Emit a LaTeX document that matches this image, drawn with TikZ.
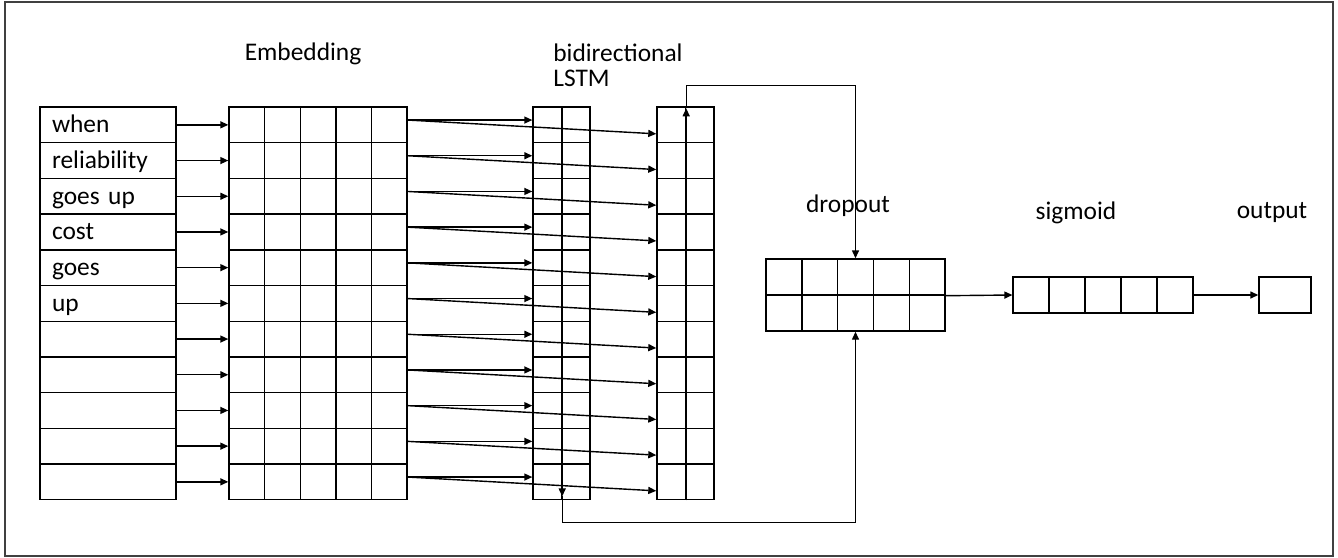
\documentclass[tikz,border=0pt]{standalone}
\usepackage{fontspec}
\setmainfont{Carlito}
\usetikzlibrary{arrows.meta, positioning}

\begin{document}
\begin{tikzpicture}[
        x=0.5pt, y=-0.5pt,
        every node/.style={font=\fontsize{12.7}{12.5}\selectfont},
        cell/.style={draw, line width=0.7pt, inner sep=0pt, minimum width=17.8pt, minimum height=17.85pt},
        lstmcell/.style={cell, minimum width=14.25pt},
        word/.style={cell, minimum width=68pt, text width=56pt, inner xsep=6pt, align=left,
            text height=10pt, text depth=2pt},
        box/.style={cell, minimum width=17.9pt, minimum height=18pt},
        lbl/.style={inner sep=0pt},
        >={Triangle[length=4pt, width=3.5pt]},
        conn/.style={->, line width=0.7pt}
    ]
    \useasboundingbox (0,0) rectangle (1338,557);
    \draw[line width=1pt, black!75] (5,2) rectangle (1333,556);
    % Define nodes
    \foreach \r/\w in {1/when, 2/reliability, 3/goes up, 4/cost, 5/goes, 6/up,
                       7/{}, 8/{}, 9/{}, 10/{}, 11/{}} {
        \node[word] (in\r) at (108, {107+35.7*(\r-0.5)}) {\w};
        \foreach \c in {1,...,5}
            \node[cell] (emb\r-\c) at ({229+35.6*(\c-0.5)}, {107+35.7*(\r-0.5)}) {};
        \foreach \c in {1,2} {
            \node[lstmcell] (fw\r-\c) at ({533+28.5*(\c-0.5)}, {107+35.7*(\r-0.5)}) {};
            \node[lstmcell] (bw\r-\c) at ({657+28.5*(\c-0.5)}, {107+35.7*(\r-0.5)}) {};
        }
    }
    \foreach \r in {1,2}
        \foreach \c in {1,...,5}
            \node[box] (drop\r-\c) at ({766+35.8*(\c-0.5)}, {259+36*(\r-0.5)}) {};
    \foreach \c in {1,...,5}
        \node[box] (sig\c) at ({1013+36*(\c-0.5)}, 295) {};
    \node[box, minimum width=26pt] (out) at (1285,295) {};
    % Labels
    \node[lbl] (emblbl) at (303,54) {Embedding};
    \node[lbl, align=left, anchor=west] (lstmlbl) at (553,65.5) {bidirectional\\LSTM};
    \node[lbl] (droplbl) at (848,206) {dropout};
    \node[lbl] (siglbl) at (1076,213) {sigmoid};
    \node[lbl] (outlbl) at (1272,213) {output};
    % Draw edges
    \foreach \r in {1,...,11} {
        \draw[conn] (in\r.east) -- (emb\r-1.west);
        \draw[conn] ([yshift=2.4pt]emb\r-5.east) -- ([yshift=2.4pt]fw\r-1.west);
        \draw[conn] ([yshift=2.4pt]emb\r-5.east) -- ([yshift=-4.5pt]bw\r-1.west);
    }
    \coordinate (fwend) at ([yshift=2pt]fw11-1.south east);
    \draw[conn] (fw1-1.north east) -- (fwend);
    \draw[conn] (fwend) -- ++(0,26) -| (drop2-3.south);
    \coordinate (bwend) at ([yshift=-1pt]bw1-1.north east);
    \draw[conn] (bw11-1.south east) -- (bwend);
    \draw[conn] (bwend) -- ++(0,-23) -| (drop1-3.north);
    \draw[conn] (drop1-5.south east) -- (sig1.west);
    \draw[conn] (sig5.east) -- (out.west);
\end{tikzpicture}
\end{document}
